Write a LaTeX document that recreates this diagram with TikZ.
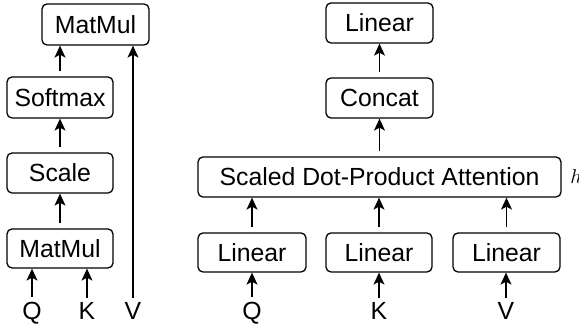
\documentclass[tikz,border=0pt]{standalone}
\usepackage{fontspec}
\setmainfont{Liberation Sans}
\usetikzlibrary{arrows.meta}
\begin{document}
\begin{tikzpicture}[x=0.5pt,y=-0.5pt,
  blk/.style={draw,rounded corners=2.5pt,line width=0.65pt,inner sep=0pt,font=\fontsize{12.4}{14}\selectfont},
  lbl/.style={inner sep=0pt,anchor=base,font=\fontsize{12.4}{14}\selectfont},
  arr/.style={-{Stealth[length=6pt,width=5.5pt,inset=1.5pt]},line width=0.6pt,shorten <=2.5pt}]
\useasboundingbox (0,0) rectangle (579,330);
% left: scaled dot-product attention
\node[blk,minimum width=53.5pt,minimum height=20.5pt] (mmt) at (95.5,24.5) {MatMul};
\node[blk,minimum width=53pt,minimum height=20.5pt] (soft) at (60,97.5) {Softmax};
\node[blk,minimum width=53pt,minimum height=20pt] (scl) at (60,173) {Scale};
\node[blk,minimum width=53pt,minimum height=19.5pt] (mmb) at (60,248.5) {MatMul};
\node[lbl] (q1) at (32,320) {Q};
\node[lbl] (k1) at (87,320) {K};
\node[lbl] (v1) at (133,320) {V};
\draw[arr] (q1.north) -- (q1.north |- mmb.south);
\draw[arr] (k1.north) -- (k1.north |- mmb.south);
\draw[arr] (mmb.north) -- (scl.south);
\draw[arr] (scl.north) -- (soft.south);
\draw[arr] (soft.north) -- (soft.north |- mmt.south);
\draw[arr] (v1.north) -- (v1.north |- mmt.south);
% right: multi-head attention
\node[blk,minimum width=53.5pt,minimum height=20pt] (lint) at (379.5,23) {Linear};
\node[blk,minimum width=53.5pt,minimum height=20pt] (cat) at (379.5,98) {Concat};
\node[blk,minimum width=181.5pt,minimum height=20pt] (sdpa) at (379.5,177) {Scaled Dot-Product Attention};
\node[blk,minimum width=54pt,minimum height=19.5pt] (lq) at (252,252.5) {Linear};
\node[blk,minimum width=53pt,minimum height=19.5pt] (lk) at (379,252.5) {Linear};
\node[blk,minimum width=53.5pt,minimum height=19.5pt] (lv) at (506.5,252.5) {Linear};
\node[lbl] (q2) at (252,320) {Q};
\node[lbl] (k2) at (379,320) {K};
\node[lbl] (v2) at (506,320) {V};
\node[inner sep=0pt,anchor=base west,font=\fontsize{10}{12}\selectfont] (h) at (570,184) {$h$};
\draw[arr] (q2.north) -- (q2.north |- lq.south);
\draw[arr] (k2.north) -- (k2.north |- lk.south);
\draw[arr] (v2.north) -- (v2.north |- lv.south);
\draw[arr] (lq.north) -- (lq.north |- sdpa.south);
\draw[arr] (lk.north) -- (lk.north |- sdpa.south);
\draw[arr] (lv.north) -- (lv.north |- sdpa.south);
\draw[arr] (sdpa.north) -- (cat.south);
\draw[arr] (cat.north) -- (lint.south);
\end{tikzpicture}
\end{document}
